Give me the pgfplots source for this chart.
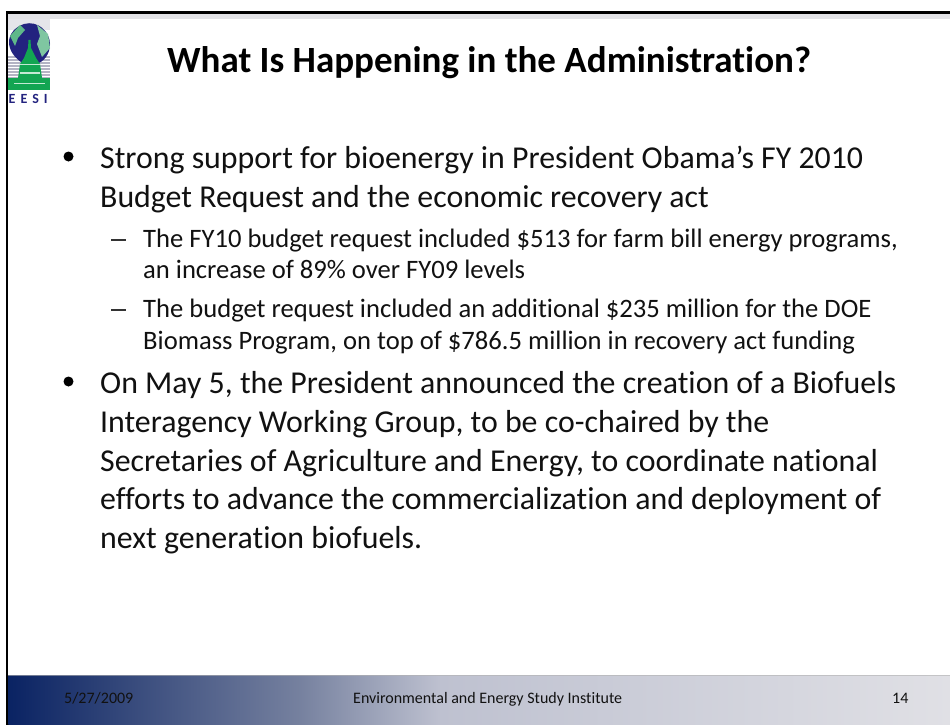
\documentclass[border=0pt]{standalone}
\usepackage{pgfplots}
\pgfplotsset{compat=1.18}
\usepackage{fontspec}
\setmainfont[RawFeature=-liga]{Carlito}
\definecolor{footdark}{HTML}{0A2363}
\definecolor{foota}{HTML}{76819F}
\definecolor{footb}{HTML}{BEC1D0}
\definecolor{footlight}{HTML}{E0E0E5}
\definecolor{topgray}{HTML}{E2E2E6}
\definecolor{logoblue}{HTML}{23237F}
\definecolor{logogreen}{HTML}{12A552}
\definecolor{logoteal}{HTML}{5FB88A}
\definecolor{logostripe}{HTML}{B4B4C4}
\definecolor{bodytext}{HTML}{111111}

\newcommand{\linetext}[4]{\node[anchor=base west,inner sep=0pt,text=bodytext,font=\fontsize{#3}{#3}\selectfont] at (axis cs:#1,#2) {#4};}

\begin{document}
\begin{tikzpicture}
\begin{axis}[
    scale only axis,
    width=950pt,
    height=725pt,
    xmin=0,
    xmax=950,
    ymin=0,
    ymax=725,
    y dir=reverse,
    hide axis,
    clip=false
]
\addplot[draw=none] coordinates {(0,0) (950,725)};

% frame and top band
\fill[white] (axis cs:0,0) rectangle (axis cs:950,725);
\fill[topgray] (axis cs:8,14) rectangle (axis cs:950,19);
\fill[black] (axis cs:6,11) rectangle (axis cs:950,14);
\fill[black] (axis cs:6,11) rectangle (axis cs:8.3,725);

% logo
\fill[logostripe!35] (axis cs:8.3,19) rectangle (axis cs:50,30);
\foreach \yy in {56,59,62,65,68,71,74,77}{
  \edef\tmp{\noexpand\fill[logostripe] (axis cs:8.3,\yy) rectangle (axis cs:50,\yy+1.6);}\tmp
}
\fill[logoblue] (axis cs:24,24) .. controls (axis cs:38,20) and (axis cs:50,32) .. (axis cs:50,44)
  .. controls (axis cs:50,54) and (axis cs:44,62) .. (axis cs:36,64)
  -- (axis cs:24,64) .. controls (axis cs:14,58) and (axis cs:9,50) .. (axis cs:9,42)
  .. controls (axis cs:9,34) and (axis cs:15,27) .. (axis cs:24,24) -- cycle;
\fill[logoteal] (axis cs:10,36) -- (axis cs:20,25) -- (axis cs:25,30) -- (axis cs:18,38) -- (axis cs:15,46) -- cycle;
\fill[logoteal!80!white] (axis cs:37,25) -- (axis cs:48,34) -- (axis cs:50,48) -- (axis cs:42,57) -- (axis cs:37,44) -- (axis cs:40,36) -- cycle;
\fill[logogreen] (axis cs:28.5,40) -- (axis cs:30.5,40) -- (axis cs:31,48) -- (axis cs:36,58) -- (axis cs:40,64) -- (axis cs:42,78)
  -- (axis cs:18,78) -- (axis cs:20,64) -- (axis cs:24,58) -- (axis cs:28,48) -- cycle;
\fill[logogreen] (axis cs:8.3,78) rectangle (axis cs:50,90);
\fill[white!75!logogreen] (axis cs:20,64) rectangle (axis cs:40,65.5);
\fill[white!75!logogreen] (axis cs:20,72) rectangle (axis cs:40,73.5);
\fill[white!75!logogreen] (axis cs:14,83) rectangle (axis cs:45,84);
\node[anchor=base west,inner sep=0pt,text=logoblue,font=\fontsize{14}{14}\selectfont\bfseries] at (axis cs:8.5,103) {E\kern5pt E\kern5pt S\kern5pt I};

% title
\node[anchor=base west,inner sep=0pt,font=\fontsize{37}{37}\selectfont\bfseries] at (axis cs:167,73) {What Is Happening in the Administration?};

% first bullet
\fill[black] (axis cs:68.5,156.5) circle [radius=5pt];
\linetext{100}{168}{31.85}{Strong support for bioenergy in President Obama’s FY 2010}
\linetext{100}{207}{31.85}{Budget Request and the economic recovery act}

\fill[black!80] (axis cs:111,239) rectangle (axis cs:126,241);
\linetext{143}{247}{26.6}{The FY10 budget request included \$513 for farm bill energy programs,}
\linetext{143}{278}{26.6}{an increase of 89\% over FY09 levels}
\fill[black!80] (axis cs:111,309) rectangle (axis cs:126,311);
\linetext{143}{317}{26.6}{The budget request included an additional \$235 million for the DOE}
\linetext{143}{349.5}{26.6}{Biomass Program, on top of \$786.5 million in recovery act funding}

% second bullet
\fill[black] (axis cs:68.5,381.5) circle [radius=5pt];
\linetext{100}{393}{31.85}{On May 5, the President announced the creation of a Biofuels}
\linetext{100}{432}{31.85}{Interagency Working Group, to be co-chaired by the}
\linetext{100}{471}{31.85}{Secretaries of Agriculture and Energy, to coordinate national}
\linetext{100}{509.5}{31.85}{efforts to advance the commercialization and deployment of}
\linetext{100}{548}{31.85}{next generation biofuels.}

% footer
\fill[left color=footdark,right color=foota] (axis cs:8.3,675) rectangle (axis cs:300.5,725);
\fill[left color=foota,right color=footb] (axis cs:300,675) rectangle (axis cs:440.5,725);
\fill[left color=footb,right color=footlight] (axis cs:440,675) rectangle (axis cs:950,725);
\fill[white!70!black,opacity=0.6] (axis cs:8.3,675) rectangle (axis cs:950,676);
\linetext{64}{703}{16}{5/27/2009}
\linetext{353}{703}{16}{Environmental and Energy Study Institute}
\linetext{892}{703}{16}{14}
\end{axis}
\end{tikzpicture}
\end{document}
